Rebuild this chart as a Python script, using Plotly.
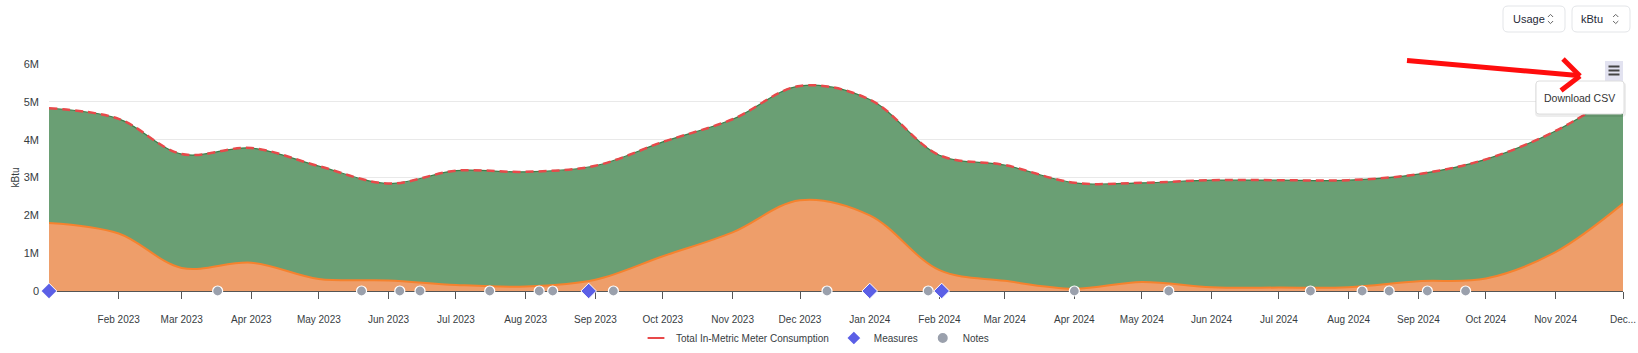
import plotly.graph_objects as go

# ---------------- data ----------------
months = ["2023-01-01", "2023-02-01", "2023-03-01", "2023-04-01", "2023-05-01", "2023-06-01",
          "2023-07-01", "2023-08-01", "2023-09-01", "2023-10-01", "2023-11-01", "2023-12-01",
          "2024-01-01", "2024-02-01", "2024-03-01", "2024-04-01", "2024-05-01", "2024-06-01",
          "2024-07-01", "2024-08-01", "2024-09-01", "2024-10-01", "2024-11-01", "2024-12-01"]
total_kbtu = [4.83e6, 4.55e6, 3.62e6, 3.78e6, 3.30e6, 2.84e6,
              3.18e6, 3.15e6, 3.31e6, 3.94e6, 4.54e6, 5.42e6,
              5.06e6, 3.59e6, 3.33e6, 2.86e6, 2.86e6, 2.93e6,
              2.93e6, 2.93e6, 3.09e6, 3.48e6, 4.23e6, 5.30e6]
orange_kbtu = [1.80e6, 1.52e6, 0.61e6, 0.75e6, 0.32e6, 0.28e6,
               0.16e6, 0.12e6, 0.30e6, 0.92e6, 1.55e6, 2.40e6,
               2.00e6, 0.55e6, 0.27e6, 0.06e6, 0.24e6, 0.10e6,
               0.09e6, 0.10e6, 0.26e6, 0.33e6, 1.03e6, 2.31e6]
measure_dates = ["2023-01-01", "2023-08-29", "2024-01-01", "2024-02-02"]
measure_vals = [0, 0, 0, 0]
note_dates = ["2023-03-17", "2023-05-20", "2023-06-06", "2023-06-15", "2023-07-16", "2023-08-07",
              "2023-08-13", "2023-09-09", "2023-12-13", "2024-01-27", "2024-04-01", "2024-05-13",
              "2024-07-15", "2024-08-07", "2024-08-19", "2024-09-05", "2024-09-22"]
note_vals = [0] * len(note_dates)
x_tick_vals = ["2023-02-01", "2023-03-01", "2023-04-01", "2023-05-01", "2023-06-01", "2023-07-01",
               "2023-08-01", "2023-09-01", "2023-10-01", "2023-11-01", "2023-12-01", "2024-01-01",
               "2024-02-01", "2024-03-01", "2024-04-01", "2024-05-01", "2024-06-01", "2024-07-01",
               "2024-08-01", "2024-09-01", "2024-10-01", "2024-11-01", "2024-12-01"]
x_tick_text = ["Feb 2023", "Mar 2023", "Apr 2023", "May 2023", "Jun 2023", "Jul 2023",
               "Aug 2023", "Sep 2023", "Oct 2023", "Nov 2023", "Dec 2023", "Jan 2024",
               "Feb 2024", "Mar 2024", "Apr 2024", "May 2024", "Jun 2024", "Jul 2024",
               "Aug 2024", "Sep 2024", "Oct 2024", "Nov 2024", "Dec..."]
y_tick_vals = [0, 1e6, 2e6, 3e6, 4e6, 5e6, 6e6]
y_tick_text = ["0", "1M", "2M", "3M", "4M", "5M", "6M"]

# ---------------- geometry helpers ----------------
W, H = 1638, 353
L, R, T, B = 49, 15, 64, 62
PW, PH = W - L - R, H - T - B


def px(x):
    return (x - L) / PW


def py(y):
    return (H - B - y) / PH


def rrect(x0, y0, x1, y1, r):
    pts = [
        f"M {px(x0 + r)} {py(y0)}",
        f"L {px(x1 - r)} {py(y0)}",
        f"Q {px(x1)} {py(y0)} {px(x1)} {py(y0 + r)}",
        f"L {px(x1)} {py(y1 - r)}",
        f"Q {px(x1)} {py(y1)} {px(x1 - r)} {py(y1)}",
        f"L {px(x0 + r)} {py(y1)}",
        f"Q {px(x0)} {py(y1)} {px(x0)} {py(y1 - r)}",
        f"L {px(x0)} {py(y0 + r)}",
        f"Q {px(x0)} {py(y0)} {px(x0 + r)} {py(y0)}",
        "Z",
    ]
    return " ".join(pts)


FONT = "Liberation Sans, Arial, Helvetica, sans-serif"
TXT = "#373d3f"
RED = "#E8494A"

fig = go.Figure()

fig.add_trace(go.Scatter(
    x=months, y=orange_kbtu, mode="lines",
    line=dict(color="#F5822E", width=2, shape="spline", smoothing=1),
    fill="tozeroy", fillcolor="#EE9E6A", showlegend=False, hoverinfo="skip"))
fig.add_trace(go.Scatter(
    x=months, y=total_kbtu, mode="lines",
    line=dict(color="#3E7C48", width=1.2, shape="spline", smoothing=1),
    fill="tonexty", fillcolor="#6A9F74", showlegend=False, hoverinfo="skip"))
fig.add_trace(go.Scatter(
    x=months, y=total_kbtu, mode="lines", name="Total In-Metric Meter Consumption",
    line=dict(color=RED, width=2.5, dash="8px,5px", shape="spline", smoothing=1),
    showlegend=False))
# legend stand-in for the total line
fig.add_trace(go.Scatter(
    x=[None], y=[None], mode="markers", name="Total In-Metric Meter Consumption",
    marker=dict(symbol="line-ew", size=11, line=dict(color=RED, width=3)),
    legendrank=1))
fig.add_trace(go.Scatter(
    x=measure_dates, y=measure_vals, mode="markers", name="Measures",
    marker=dict(symbol="diamond", size=12, color="#5B5FE6", line=dict(color="white", width=1)),
    cliponaxis=False, legendrank=2))
fig.add_trace(go.Scatter(
    x=note_dates, y=note_vals, mode="markers", name="Notes",
    marker=dict(symbol="circle", size=10, color="#9AA0AC", line=dict(color="white", width=1.2)),
    cliponaxis=False, legendrank=3))

shapes = []
# top buttons
shapes.append(dict(type="path", xref="paper", yref="paper", path=rrect(1503, 6, 1565, 32, 5),
                   fillcolor="white", line=dict(color="#e3e5e8", width=1), layer="above"))
shapes.append(dict(type="path", xref="paper", yref="paper", path=rrect(1572, 6, 1630, 32, 5),
                   fillcolor="white", line=dict(color="#e3e5e8", width=1), layer="above"))
for cx in (1550.5, 1615.7):
    shapes.append(dict(type="path", xref="paper", yref="paper",
                       path=f"M {px(cx-2.6)} {py(17)} L {px(cx)} {py(14.4)} L {px(cx+2.6)} {py(17)}",
                       line=dict(color="#666", width=1), layer="above"))
    shapes.append(dict(type="path", xref="paper", yref="paper",
                       path=f"M {px(cx-2.6)} {py(21)} L {px(cx)} {py(23.6)} L {px(cx+2.6)} {py(21)}",
                       line=dict(color="#666", width=1), layer="above"))
# hamburger menu
shapes.append(dict(type="rect", xref="paper", yref="paper", x0=px(1605), x1=px(1623), y0=py(61), y1=py(81),
                   fillcolor="#e2e2f0", line=dict(width=0), layer="above"))
for yb in (66.5, 70.5, 74.5):
    shapes.append(dict(type="rect", xref="paper", yref="paper", x0=px(1608.5), x1=px(1619.5),
                       y0=py(yb - 1), y1=py(yb + 1), fillcolor="#444", line=dict(width=0), layer="above"))
# download csv dropdown with soft shadow
shapes.append(dict(type="path", xref="paper", yref="paper", path=rrect(1535, 82, 1626, 117, 4),
                   fillcolor="rgba(0,0,0,0.07)", line=dict(width=0), layer="above"))
shapes.append(dict(type="path", xref="paper", yref="paper", path=rrect(1536, 81, 1624, 114, 3),
                   fillcolor="white", line=dict(color="#dedede", width=1), layer="above"))
# red arrow
for (x0, y0, x1, y1) in [(1407, 60.5, 1578, 75.5), (1563, 59, 1580, 76), (1580, 76, 1561, 90.5)]:
    shapes.append(dict(type="line", xref="paper", yref="paper", x0=px(x0), y0=py(y0), x1=px(x1), y1=py(y1),
                       line=dict(color="#FF0D0D", width=5), layer="above"))

annotations = [
    dict(text="kBtu", x=px(15), y=0.5, xref="paper", yref="paper", showarrow=False, textangle=-90,
         font=dict(family=FONT, size=10, color=TXT), xanchor="center", yanchor="middle"),
    dict(text="Usage", x=px(1528.5), y=py(19), xref="paper", yref="paper", showarrow=False,
         font=dict(family=FONT, size=11, color="#1f2937"), xanchor="center", yanchor="middle"),
    dict(text="kBtu", x=px(1592.3), y=py(19), xref="paper", yref="paper", showarrow=False,
         font=dict(family=FONT, size=11, color="#1f2937"), xanchor="center", yanchor="middle"),
    dict(text="Download CSV", x=px(1579.5), y=py(97.5), xref="paper", yref="paper", showarrow=False,
         font=dict(family=FONT, size=10.5, color="#333"), xanchor="center", yanchor="middle"),
]

fig.update_layout(
    width=W, height=H, autosize=False,
    margin=dict(l=L, r=R, t=T, b=B, pad=0, autoexpand=False),
    paper_bgcolor="white", plot_bgcolor="white",
    font=dict(family=FONT, size=10, color=TXT),
    showlegend=True,
    legend=dict(orientation="h", x=px(815), xanchor="center", y=py(338), yanchor="middle",
                font=dict(family=FONT, size=10, color=TXT), bgcolor="rgba(0,0,0,0)",
                itemsizing="constant", traceorder="normal"),
    shapes=shapes, annotations=annotations,
    xaxis=dict(type="date", range=[months[0], months[-1]], tickvals=x_tick_vals, ticktext=x_tick_text,
               ticks="outside", ticklen=7, tickcolor="#555", tickwidth=1,
               showline=True, linecolor="#555", linewidth=1, showgrid=False, zeroline=False,
               tickfont=dict(family=FONT, size=10, color=TXT), layer="below traces",
               ticklabelstandoff=12, automargin=False, fixedrange=True),
    yaxis=dict(range=[0, 6e6], tickvals=y_tick_vals, ticktext=y_tick_text,
               showgrid=True, gridcolor="#e9e9e9", gridwidth=1, zeroline=False, showline=False,
               tickfont=dict(family=FONT, size=11, color=TXT), ticklabelstandoff=9,
               layer="below traces", automargin=False, fixedrange=True),
)

fig.write_html("out.html", config={"displayModeBar": False})
